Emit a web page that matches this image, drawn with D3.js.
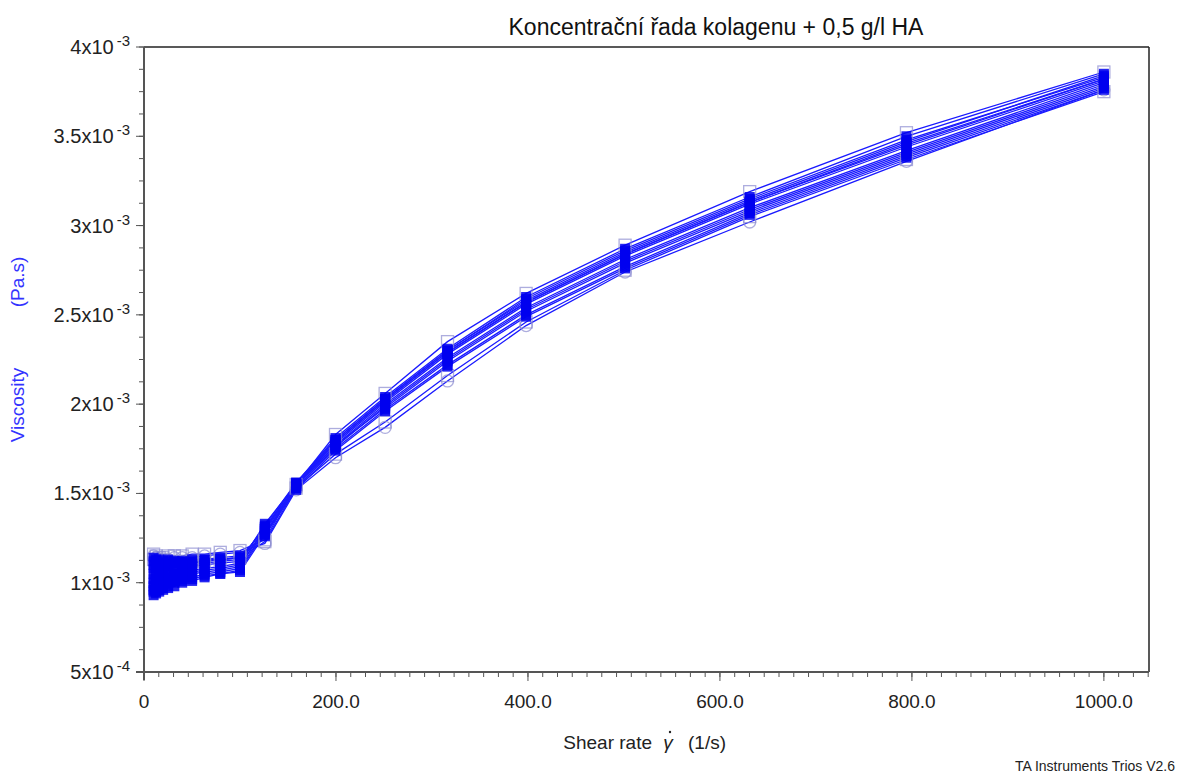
<!DOCTYPE html>
<html>
<head>
<meta charset="utf-8">
<script src="https://cdn.jsdelivr.net/npm/d3@7/dist/d3.min.js"></script>
<style>
    body { margin: 0; background: #fff; }
    svg text { font-family: "Liberation Sans", Arial, sans-serif; }
</style>
</head>
<body>
<svg id="chart" width="1180" height="776"></svg>
<script>
// shear rate steps (1/s)
var shearRate = [10, 12.59, 15.85, 19.95, 25.12, 31.62, 39.81, 50.12, 63.10, 79.43, 100,
    125.9, 158.5, 199.5, 251.2, 316.2, 398.1, 501.2, 631.0, 794.3, 1000];

// viscosity of each run, in 10^-3 Pa.s
var run01 = [1.14, 1.13, 1.13, 1.12, 1.13, 1.12, 1.12, 1.13, 1.13, 1.14, 1.15, 1.27, 1.55, 1.80, 2.03, 2.30, 2.58, 2.85, 3.14, 3.47, 3.84];
var run02 = [1.12, 1.12, 1.11, 1.11, 1.12, 1.12, 1.12, 1.12, 1.13, 1.13, 1.14, 1.26, 1.54, 1.79, 2.02, 2.29, 2.57, 2.84, 3.13, 3.45, 3.82];
var run03 = [1.10, 1.10, 1.10, 1.10, 1.10, 1.11, 1.11, 1.11, 1.12, 1.13, 1.14, 1.30, 1.56, 1.81, 2.04, 2.31, 2.60, 2.87, 3.16, 3.50, 3.85];
var run04 = [1.08, 1.08, 1.08, 1.09, 1.09, 1.09, 1.10, 1.10, 1.11, 1.12, 1.13, 1.31, 1.55, 1.78, 2.01, 2.28, 2.56, 2.83, 3.12, 3.44, 3.81];
var run05 = [1.05, 1.05, 1.06, 1.06, 1.07, 1.07, 1.08, 1.09, 1.10, 1.11, 1.12, 1.32, 1.56, 1.80, 2.03, 2.30, 2.59, 2.86, 3.15, 3.48, 3.83];
var run06 = [1.02, 1.02, 1.03, 1.04, 1.04, 1.05, 1.06, 1.07, 1.08, 1.09, 1.11, 1.33, 1.55, 1.79, 2.02, 2.29, 2.57, 2.84, 3.13, 3.46, 3.82];
var run07 = [1.00, 1.00, 1.01, 1.02, 1.03, 1.04, 1.05, 1.06, 1.07, 1.08, 1.10, 1.30, 1.54, 1.77, 2.00, 2.26, 2.54, 2.81, 3.10, 3.42, 3.80];
var run08 = [0.98, 0.99, 1.00, 1.01, 1.02, 1.03, 1.04, 1.05, 1.06, 1.07, 1.09, 1.31, 1.53, 1.76, 1.99, 2.25, 2.53, 2.80, 3.09, 3.41, 3.79];
var run09 = [0.96, 0.97, 0.98, 0.99, 1.00, 1.01, 1.02, 1.03, 1.05, 1.06, 1.08, 1.29, 1.54, 1.77, 1.98, 2.24, 2.52, 2.79, 3.08, 3.40, 3.78];
var run10 = [0.95, 0.95, 0.96, 0.97, 0.98, 1.00, 1.01, 1.02, 1.04, 1.05, 1.07, 1.28, 1.53, 1.75, 1.97, 2.22, 2.50, 2.77, 3.07, 3.39, 3.77];
var run11 = [0.93, 0.94, 0.95, 0.96, 0.97, 0.98, 1.00, 1.01, 1.03, 1.05, 1.06, 1.27, 1.52, 1.74, 1.96, 2.21, 2.49, 2.76, 3.06, 3.38, 3.76];
var run12 = [1.13, 1.12, 1.12, 1.12, 1.11, 1.11, 1.12, 1.12, 1.12, 1.13, 1.14, 1.23, 1.53, 1.72, 1.90, 2.16, 2.46, 2.75, 3.05, 3.37, 3.75];
var run13 = [1.15, 1.14, 1.13, 1.13, 1.13, 1.14, 1.14, 1.14, 1.15, 1.16, 1.17, 1.22, 1.52, 1.70, 1.87, 2.13, 2.44, 2.74, 3.02, 3.36, 3.76];
var run14 = [1.16, 1.15, 1.14, 1.14, 1.15, 1.15, 1.15, 1.16, 1.16, 1.17, 1.18, 1.24, 1.55, 1.83, 2.06, 2.35, 2.62, 2.89, 3.19, 3.52, 3.86];

var solidRuns = [run01, run02, run03, run04, run05, run06, run07, run08, run09, run10, run11];
var openSquareRuns = [run12, run14];
var openCircleRuns = [run13];

// axis ticks
var xTicks = [0, 200, 400, 600, 800, 1000];
var xTickLabels = ["0", "200.0", "400.0", "600.0", "800.0", "1000.0"];
var yTicks = [4, 3.5, 3, 2.5, 2, 1.5, 1, 0.5];
var yTickMant = ["4", "3.5", "3", "2.5", "2", "1.5", "1", "5"];
var yTickExp = ["-3", "-3", "-3", "-3", "-3", "-3", "-3", "-4"];


function render_chart(svg_elem) {
    var svg = d3.select(svg_elem);

    var left = 144, right = 1149, top = 47, bottom = 672;

    var x = d3.scaleLinear().domain([0, 1047]).range([left, right]);
    var y = d3.scaleLinear().domain([0.5, 4]).range([bottom, top]);

    /* frame */
    svg.append("line")
        .attr("x1", left).attr("x2", right)
        .attr("y1", top).attr("y2", top)
        .style("stroke", "#222").style("stroke-width", 1.5);
    svg.append("line")
        .attr("x1", right).attr("x2", right)
        .attr("y1", top).attr("y2", bottom)
        .style("stroke", "#222").style("stroke-width", 1.5);

    /* x axis */
    var xMinor = d3.range(0, 1047, 200 / 13);
    svg.append("g")
        .selectAll("line.minor")
        .data(xMinor)
        .enter().append("line")
        .attr("x1", function (d) { return x(d); })
        .attr("x2", function (d) { return x(d); })
        .attr("y1", bottom).attr("y2", bottom + 5)
        .style("stroke", "#555").style("stroke-width", 1);

    svg.append("g")
        .selectAll("line.major")
        .data(xTicks)
        .enter().append("line")
        .attr("x1", function (d) { return x(d); })
        .attr("x2", function (d) { return x(d); })
        .attr("y1", bottom).attr("y2", bottom + 9)
        .style("stroke", "#555").style("stroke-width", 1);

    svg.append("g")
        .selectAll("text")
        .data(xTicks)
        .enter().append("text")
        .attr("x", function (d) { return x(d); })
        .attr("y", 708)
        .attr("text-anchor", "middle")
        .style("font-size", "19px")
        .style("fill", "#222")
        .text(function (d, i) { return xTickLabels[i]; });

    svg.append("line")
        .attr("x1", left - 8).attr("x2", right)
        .attr("y1", bottom).attr("y2", bottom)
        .style("stroke", "#555").style("stroke-width", 2);

    /* y axis */
    var yMinor = d3.range(0.5, 4.001, 0.125);
    svg.append("g")
        .selectAll("line")
        .data(yMinor)
        .enter().append("line")
        .attr("x1", left - 5).attr("x2", left)
        .attr("y1", function (d) { return y(d); })
        .attr("y2", function (d) { return y(d); })
        .style("stroke", "#555").style("stroke-width", 1);

    svg.append("g")
        .selectAll("line")
        .data(yTicks)
        .enter().append("line")
        .attr("x1", left - 8).attr("x2", left)
        .attr("y1", function (d) { return y(d); })
        .attr("y2", function (d) { return y(d); })
        .style("stroke", "#555").style("stroke-width", 1);

    var yLab = svg.append("g")
        .selectAll("text")
        .data(yTicks)
        .enter().append("text")
        .attr("x", 130)
        .attr("y", function (d) { return y(d) + 7; })
        .attr("text-anchor", "end")
        .style("font-size", "20px")
        .style("fill", "#222");
    yLab.append("tspan")
        .text(function (d, i) { return yTickMant[i] + "x10"; });
    yLab.append("tspan")
        .attr("dx", 3)
        .attr("dy", -8)
        .style("font-size", "15px")
        .text(function (d, i) { return yTickExp[i]; });

    svg.append("line")
        .attr("x1", left).attr("x2", left)
        .attr("y1", top).attr("y2", bottom + 8)
        .style("stroke", "#555").style("stroke-width", 2);

    /* curves */
    var line = d3.line()
        .x(function (d, i) { return x(shearRate[i]); })
        .y(function (d) { return y(d); });

    var allRuns = solidRuns.concat(openSquareRuns).concat(openCircleRuns);

    svg.append("g")
        .attr("class", "lines")
        .selectAll("path")
        .data(allRuns)
        .enter().append("path")
        .attr("d", line)
        .style("fill", "none")
        .style("stroke", "#1a1aff")
        .style("stroke-width", 1.3);

    openSquareRuns.forEach(function (run) {
        svg.append("g")
            .selectAll("rect")
            .data(run)
            .enter().append("rect")
            .attr("x", function (d, i) { return x(shearRate[i]) - 6; })
            .attr("y", function (d) { return y(d) - 6; })
            .attr("width", 12).attr("height", 12)
            .style("fill", "none")
            .style("stroke", "#8a8ad0")
            .style("stroke-opacity", 0.7)
            .style("stroke-width", 1.3);
    });

    openCircleRuns.forEach(function (run) {
        svg.append("g")
            .selectAll("circle")
            .data(run)
            .enter().append("circle")
            .attr("cx", function (d, i) { return x(shearRate[i]); })
            .attr("cy", function (d) { return y(d); })
            .attr("r", 6)
            .style("fill", "none")
            .style("stroke", "#8a8ad0")
            .style("stroke-opacity", 0.7)
            .style("stroke-width", 1.3);
    });

    solidRuns.forEach(function (run) {
        svg.append("g")
            .selectAll("rect")
            .data(run)
            .enter().append("rect")
            .attr("x", function (d, i) { return x(shearRate[i]) - 5; })
            .attr("y", function (d) { return y(d) - 5; })
            .attr("width", 10).attr("height", 10)
            .style("fill", "#0000ee")
            .style("fill-opacity", 0.85);
    });

    /* titles */
    svg.append("text")
        .attr("x", 716).attr("y", 35)
        .attr("text-anchor", "middle")
        .style("font-size", "23px")
        .style("fill", "#111")
        .text("Koncentrační řada kolagenu + 0,5 g/l HA");

    svg.append("text")
        .attr("x", 652).attr("y", 749)
        .attr("text-anchor", "end")
        .style("font-size", "19px")
        .style("fill", "#222")
        .text("Shear rate");
    svg.append("text")
        .attr("x", 668).attr("y", 749)
        .attr("text-anchor", "middle")
        .style("font-size", "19px")
        .style("font-style", "italic")
        .style("fill", "#222")
        .text("γ");
    // dot over gamma
    svg.append("circle")
        .attr("cx", 670).attr("cy", 732)
        .attr("r", 1.2)
        .style("fill", "#222");
    svg.append("text")
        .attr("x", 688).attr("y", 749)
        .style("font-size", "19px")
        .style("fill", "#222")
        .text("(1/s)");

    svg.append("text")
        .attr("transform", "translate(24,405) rotate(-90)")
        .attr("text-anchor", "middle")
        .style("font-size", "19px")
        .style("fill", "#3333ff")
        .text("Viscosity");
    svg.append("text")
        .attr("transform", "translate(24,282) rotate(-90)")
        .attr("text-anchor", "middle")
        .style("font-size", "19px")
        .style("fill", "#3333ff")
        .text("(Pa.s)");

    svg.append("text")
        .attr("x", 1175).attr("y", 771)
        .attr("text-anchor", "end")
        .style("font-size", "14px")
        .style("fill", "#222")
        .text("TA Instruments Trios V2.6");
}

render_chart("#chart");
</script>
</body>
</html>
